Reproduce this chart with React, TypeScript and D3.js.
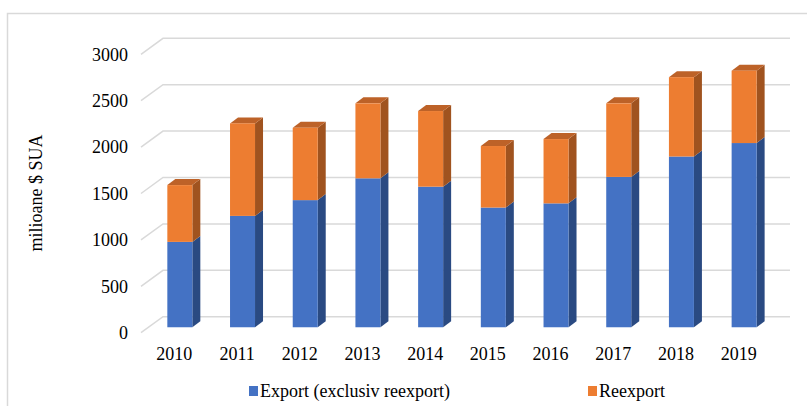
import React from 'react';
import * as d3 from 'd3';

const years = ['2010', '2011', '2012', '2013', '2014', '2015', '2016', '2017', '2018', '2019'];
const exportVals = [920, 1200, 1370, 1605, 1515, 1290, 1335, 1620, 1840, 1985];
const reexportVals = [612, 997, 780, 808, 815, 663, 693, 793, 855, 780];
const yTicks = [0, 500, 1000, 1500, 2000, 2500, 3000];

const W = 807;
const H = 406;
const FONT = '"Liberation Serif", "Times New Roman", serif';

// oblique depth: full floor depth goes (-22, +16) from the back wall
const DEPTH_X = -22;
const DEPTH_Y = 16;
const FRONT_F = 0.66; // bars' front face sits at this fraction of depth
const SIDE_DX = 8;
const SIDE_DY = -6;
const BAR_W = 25;

const colors = {
  blue: { front: '#4472C4', side: '#2A4A82', top: '#3A63AD' },
  orange: { front: '#ED7D31', side: '#A0531F', top: '#BD6228' },
};

const App: React.FC = () => {
  const x = d3.scaleBand<string>().domain(years).range([163, 790]);
  const y = d3.scaleLinear().domain([0, 3000]).range([316.7, 38.3]);

  const fx = FRONT_F * DEPTH_X;
  const fy = FRONT_F * DEPTH_Y;

  const segment = (key: string, x0: number, v0: number, v1: number, c: typeof colors.blue, withTop: boolean) => {
    const yb = y(v0) + fy;
    const yt = y(v1) + fy;
    const x1 = x0 + BAR_W;
    const side = `M${x1},${yb} L${x1 + SIDE_DX},${yb + SIDE_DY} L${x1 + SIDE_DX},${yt + SIDE_DY} L${x1},${yt} Z`;
    const top = `M${x0},${yt} L${x0 + SIDE_DX},${yt + SIDE_DY} L${x1 + SIDE_DX},${yt + SIDE_DY} L${x1},${yt} Z`;
    return (
      <g key={key}>
        <path d={side} fill={c.side} />
        {withTop && <path d={top} fill={c.top} />}
        <rect x={x0} y={yt} width={BAR_W} height={yb - yt} fill={c.front} />
      </g>
    );
  };

  return (
    <svg width={W} height={H} style={{ position: 'absolute', left: 0, top: 0, background: '#fff' }}>
      {/* frame */}
      <path d={`M7.5,${H} L7.5,13.5 L${W},13.5`} fill="none" stroke="#D9D9D9" strokeWidth={1.5} />

      {/* gridlines */}
      {yTicks.map((t) => (
        <g key={t}>
          <path
            d={`M${163 + DEPTH_X},${y(t) + DEPTH_Y} L163,${y(t)} L790,${y(t)}`}
            fill="none"
            stroke="#D9D9D9"
            strokeWidth={1.5}
          />
          <text
            x={128}
            y={y(t) + DEPTH_Y}
            dy="0.35em"
            textAnchor="end"
            fontFamily={FONT}
            fontSize={18}
            fill="#000"
          >
            {t}
          </text>
        </g>
      ))}

      {/* bars */}
      {years.map((yr, i) => {
        const cx = (x(yr) as number) + x.bandwidth() / 2 + fx;
        const x0 = cx - BAR_W / 2;
        const total = exportVals[i] + reexportVals[i];
        return (
          <g key={yr}>
            {segment('b' + yr, x0, 0, exportVals[i], colors.blue, false)}
            {segment('o' + yr, x0, exportVals[i], total, colors.orange, true)}
          </g>
        );
      })}

      {/* year labels */}
      {years.map((yr) => (
        <text
          key={'l' + yr}
          x={(x(yr) as number) + x.bandwidth() / 2 - 20}
          y={354}
          dy="0.35em"
          textAnchor="middle"
          fontFamily={FONT}
          fontSize={18}
          fill="#000"
        >
          {yr}
        </text>
      ))}

      {/* y title */}
      <text
        transform="translate(36,193) rotate(-90)"
        dy="0.35em"
        textAnchor="middle"
        fontFamily={FONT}
        fontSize={18}
        fill="#000"
      >
        milioane $ SUA
      </text>

      {/* legend */}
      <rect x={249} y={386} width={9} height={10} fill={colors.blue.front} />
      <text x={260} y={391} dy="0.35em" fontFamily={FONT} fontSize={18} fill="#000">
        Export (exclusiv reexport)
      </text>
      <rect x={588} y={386} width={9} height={10} fill={colors.orange.front} />
      <text x={599} y={391} dy="0.35em" fontFamily={FONT} fontSize={18} fill="#000">
        Reexport
      </text>
    </svg>
  );
};

export default App;
